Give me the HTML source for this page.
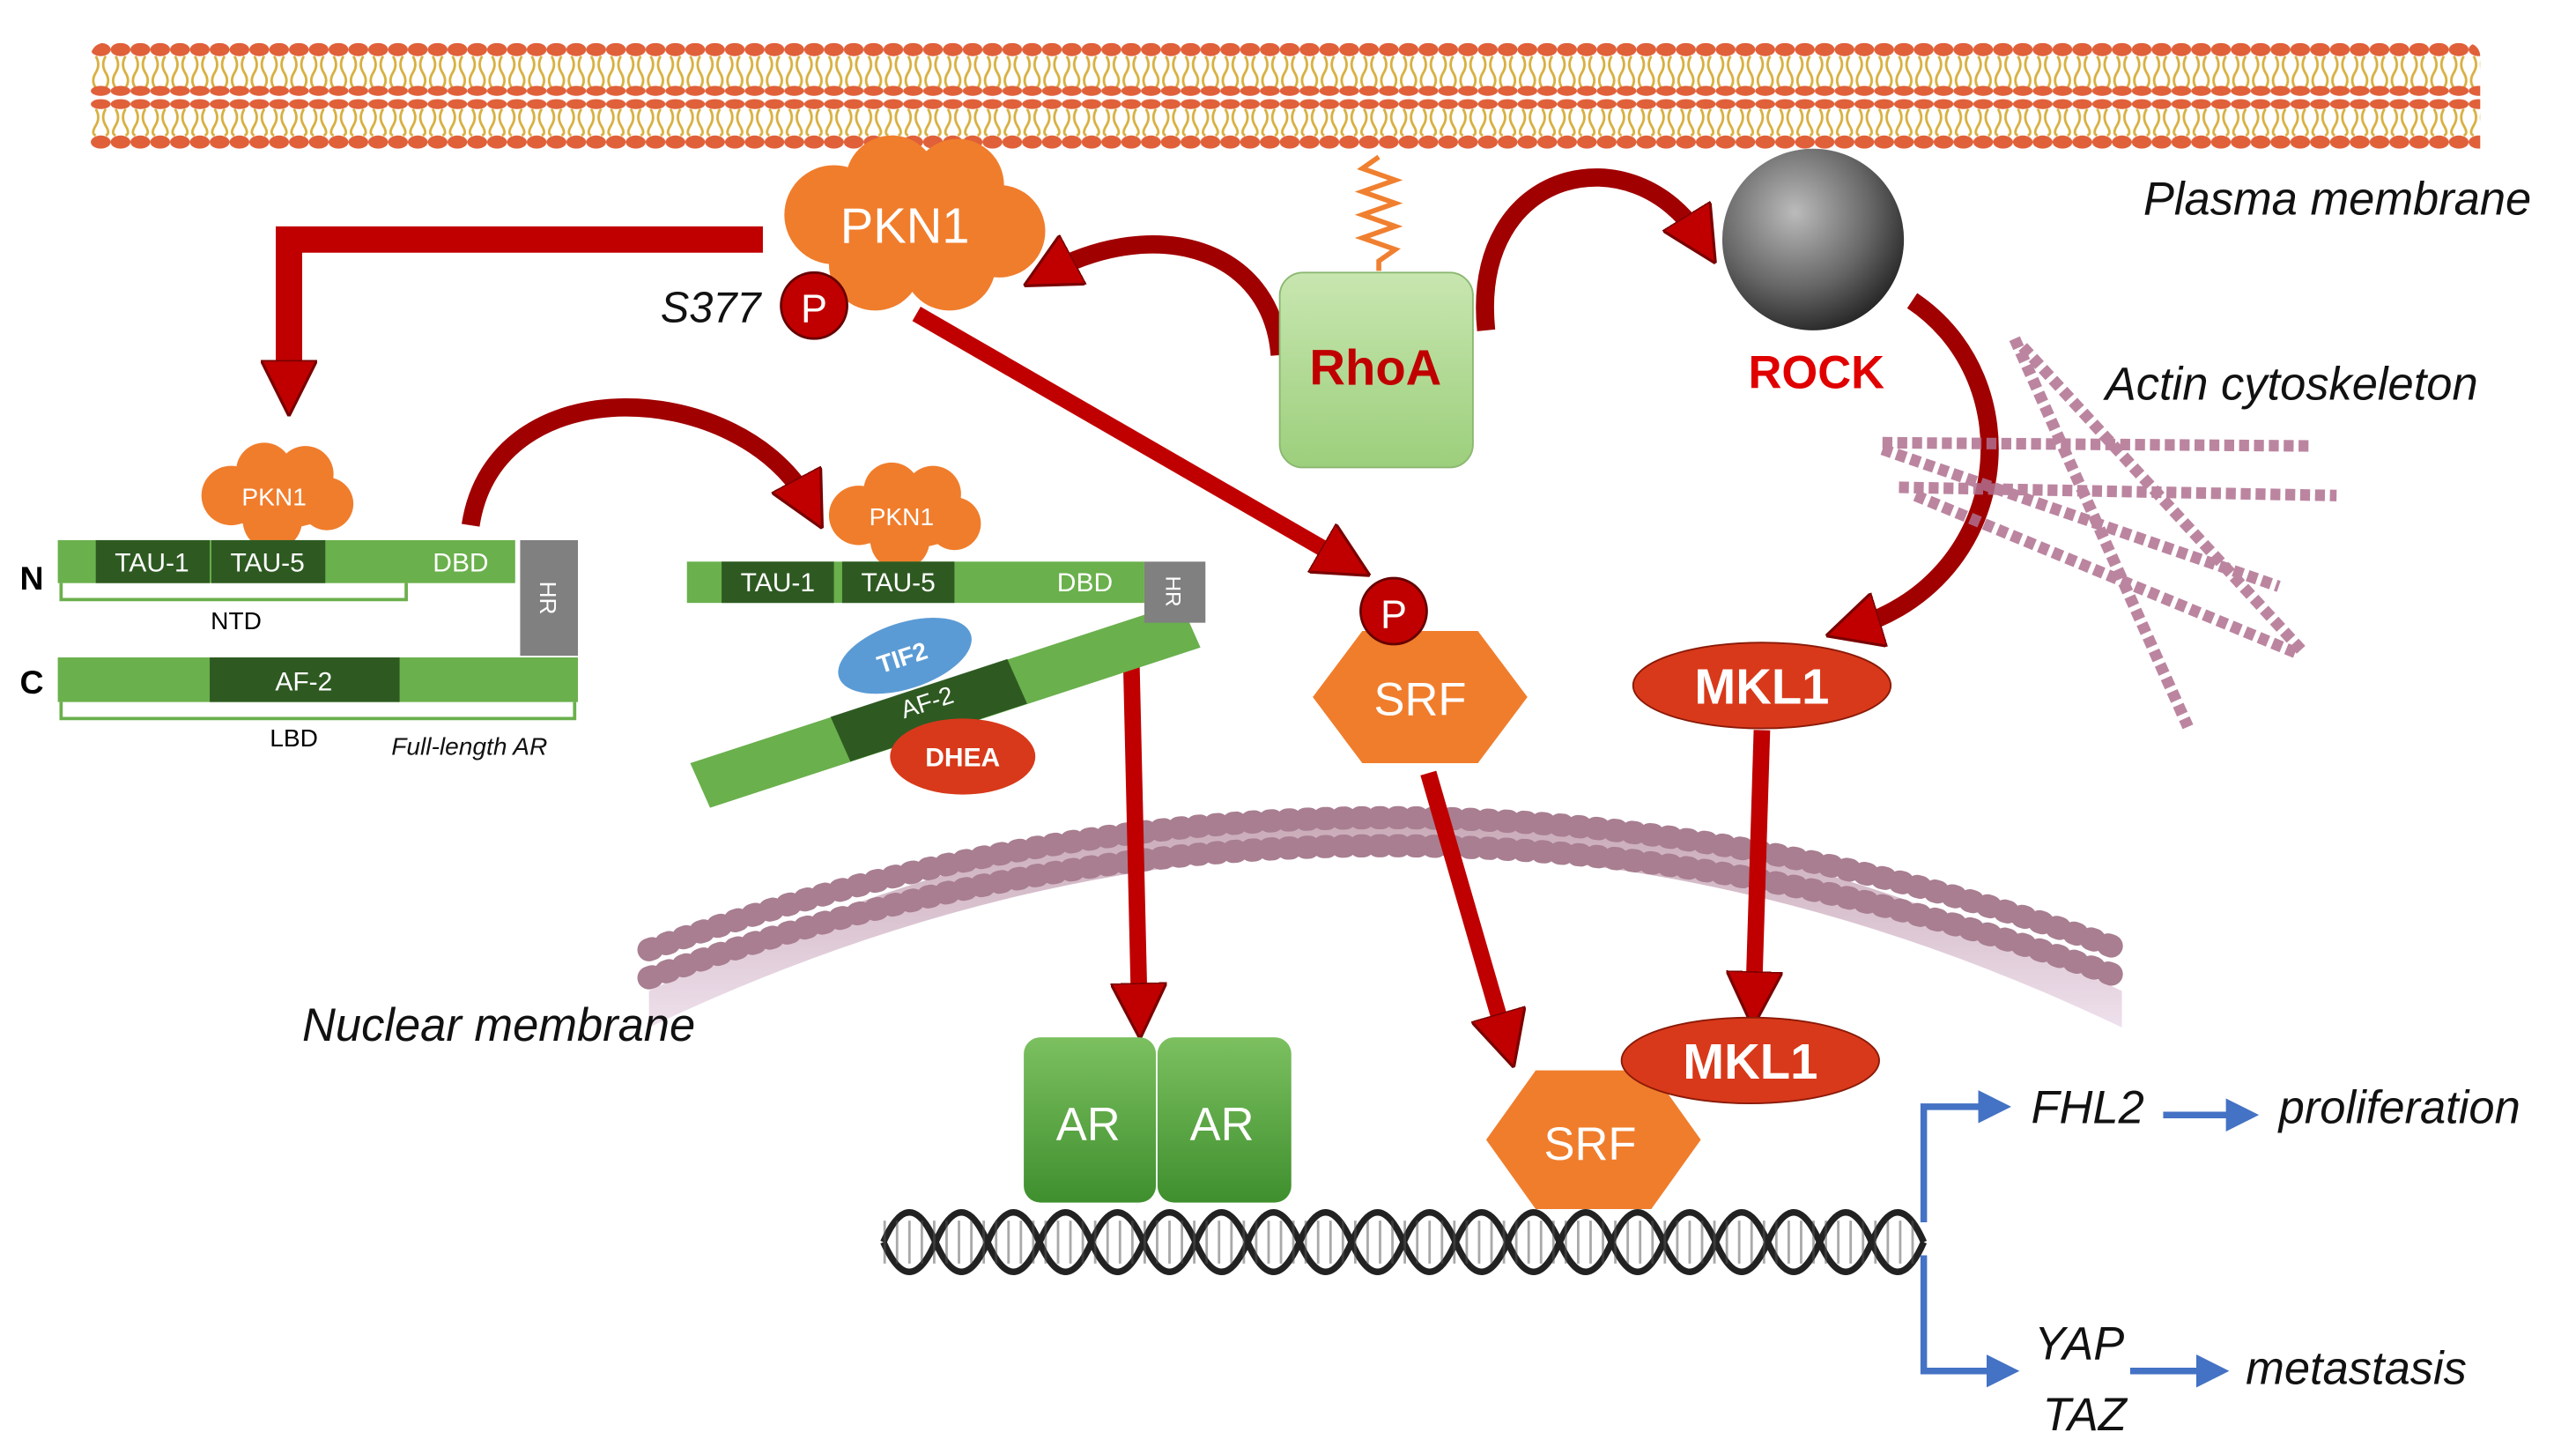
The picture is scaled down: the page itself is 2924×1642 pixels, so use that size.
<!DOCTYPE html>
<html><head><meta charset="utf-8"><style>
html,body{margin:0;padding:0;background:#fff;}
svg{display:block;}
text{font-family:"Liberation Sans",sans-serif;}
.it{font-style:italic;fill:#111;}
</style></head><body>
<svg width="2924" height="1642" viewBox="0 0 1560 876" xmlns="http://www.w3.org/2000/svg">
<defs>
<pattern id="mem" x="55" y="0" width="12" height="70" patternUnits="userSpaceOnUse">
<ellipse cx="6" cy="30" rx="6" ry="4" fill="#e0603a"/>
<path d="M3 34 q3 5 0 10 q-3 5 0 9 M9 34 q-3 5 0 10 q3 5 0 9" stroke="#d8b040" stroke-width="1.5" fill="none"/>
<ellipse cx="6" cy="55" rx="6" ry="3" fill="#e0603a"/>
<ellipse cx="6" cy="63" rx="6" ry="3" fill="#e0603a"/>
</pattern>
<pattern id="mem2" x="55" y="0" width="12" height="100" patternUnits="userSpaceOnUse">
<path d="M3 66 q3 5 0 10 q-3 5 0 6 M9 66 q-3 5 0 10 q3 5 0 6" stroke="#d8b040" stroke-width="1.5" fill="none"/>
<ellipse cx="6" cy="86" rx="6" ry="4" fill="#e0603a"/>
</pattern>
<radialGradient id="moon" cx="0.4" cy="0.35" r="0.7"><stop offset="0" stop-color="#bbb"/><stop offset="0.6" stop-color="#666"/><stop offset="1" stop-color="#222"/></radialGradient>
<linearGradient id="gbox" x1="0" y1="0" x2="0" y2="1"><stop offset="0" stop-color="#7cc060"/><stop offset="1" stop-color="#3f8f2e"/></linearGradient>
<linearGradient id="rhoa" x1="0" y1="0" x2="0" y2="1"><stop offset="0" stop-color="#c8e6b0"/><stop offset="1" stop-color="#9ccf7c"/></linearGradient>
<linearGradient id="nuc" x1="0" y1="0" x2="0" y2="1"><stop offset="0" stop-color="#b58a9c"/><stop offset="1" stop-color="#e8d6e6"/></linearGradient>
<marker id="ah" viewBox="0 0 10 10" refX="5" refY="5" markerWidth="34" markerHeight="34" markerUnits="userSpaceOnUse" orient="auto"><path d="M0 0 L10 5 L0 10 z" fill="#c00000" stroke="#7a0000" stroke-width="0.5"/></marker>
<marker id="ahb" viewBox="0 0 10 10" refX="5" refY="5" markerWidth="20" markerHeight="20" markerUnits="userSpaceOnUse" orient="auto"><path d="M0 0 L10 5 L0 10 z" fill="#4472c4"/></marker>
</defs>

<!-- plasma membrane -->
<rect x="55" y="26" width="1447" height="64" rx="8" fill="url(#mem)"/>
<rect x="55" y="26" width="1447" height="64" fill="url(#mem2)"/>
<text x="1298" y="130" class="it" font-size="28">Plasma membrane</text>

<!-- nuclear membrane -->
<path d="M393 600 Q840 380 1285 600 L1285 622 Q840 410 393 622 Z" fill="url(#nuc)" opacity="0.75"/>
<path d="M393 575 Q840 415 1285 575" stroke="#a87e90" stroke-width="14" fill="none" stroke-dasharray="2 9" stroke-linecap="round"/>
<path d="M393 592 Q840 432 1285 592" stroke="#a87e90" stroke-width="14" fill="none" stroke-dasharray="2 9" stroke-linecap="round"/>
<text x="183" y="630" class="it" font-size="28">Nuclear membrane</text>

<!-- spring -->
<path d="M835 95 l-10 7 l20 7 l-20 7 l20 7 l-20 7 l20 7 l-20 7 l20 7 l-10 7 v6" stroke="#f08030" stroke-width="3" fill="none"/>

<!-- arrows red -->
<path d="M462 145 H175 V235" stroke="#c00000" stroke-width="16" fill="none" marker-end="url(#ah)"/>
<path d="M775 215 C770 150 700 130 635 165" stroke="#a00000" stroke-width="11" fill="none" marker-end="url(#ah)"/>
<path d="M900 200 C890 100 990 80 1030 145" stroke="#a00000" stroke-width="11" fill="none" marker-end="url(#ah)"/>
<path d="M1158 182 C1230 230 1220 350 1122 380" stroke="#a00000" stroke-width="11" fill="none" marker-end="url(#ah)"/>
<path d="M285 318 C300 220 450 230 490 305" stroke="#a00000" stroke-width="11" fill="none" marker-end="url(#ah)"/>
<path d="M555 190 L815 340" stroke="#c00000" stroke-width="10" fill="none" marker-end="url(#ah)"/>
<path d="M685 395 L690 612" stroke="#c00000" stroke-width="10" fill="none" marker-end="url(#ah)"/>
<path d="M865 468 L912 630" stroke="#c00000" stroke-width="10" fill="none" marker-end="url(#ah)"/>
<path d="M1067 442 L1062 605" stroke="#c00000" stroke-width="10" fill="none" marker-end="url(#ah)"/>

<!-- PKN1 cloud -->
<g fill="#f07d2c">
<circle cx="505" cy="130" r="30"/><circle cx="540" cy="110" r="28"/><circle cx="580" cy="112" r="28"/><circle cx="605" cy="140" r="28"/><circle cx="575" cy="160" r="28"/><circle cx="530" cy="160" r="28"/><ellipse cx="555" cy="137" rx="60" ry="35"/>
</g>
<text x="548" y="147" font-size="30" fill="#fff" text-anchor="middle">PKN1</text>
<circle cx="493" cy="185" r="20" fill="#c00000" stroke="#600" stroke-width="1.5"/>
<text x="493" y="195" font-size="24" fill="#fff" text-anchor="middle">P</text>
<text x="400" y="195" class="it" font-size="26">S377</text>

<!-- RhoA -->
<rect x="775" y="165" width="117" height="118" rx="14" fill="url(#rhoa)" stroke="#8ab870"/>
<text x="833" y="233" font-size="30" font-weight="bold" fill="#c00000" text-anchor="middle">RhoA</text>

<!-- ROCK -->
<circle cx="1098" cy="145" r="55" fill="url(#moon)"/>
<text x="1100" y="235" font-size="28" font-weight="bold" fill="#e00000" text-anchor="middle">ROCK</text>

<!-- actin -->
<g stroke="#b07090" stroke-width="7" stroke-dasharray="6 3" opacity="0.85">
<line x1="1140" y1="268" x2="1400" y2="270"/>
<line x1="1150" y1="295" x2="1415" y2="300"/>
<line x1="1160" y1="300" x2="1390" y2="395"/>
<line x1="1140" y1="272" x2="1380" y2="355"/>
<line x1="1220" y1="205" x2="1325" y2="440"/>
<line x1="1225" y1="210" x2="1395" y2="395"/>
</g>
<text x="1275" y="242" class="it" font-size="28">Actin cytoskeleton</text>

<!-- MKL1 -->
<ellipse cx="1067" cy="415" rx="78" ry="26" fill="#d8391a" stroke="#8a1a08"/>
<text x="1067" y="426" font-size="30" font-weight="bold" fill="#fff" text-anchor="middle">MKL1</text>

<!-- SRF top -->
<polygon points="795,422 825,382 895,382 925,422 895,462 825,462" fill="#f07d2c"/>
<text x="860" y="433" font-size="28" fill="#fff" text-anchor="middle">SRF</text>
<circle cx="844" cy="370" r="20" fill="#c00000" stroke="#600" stroke-width="1.5"/>
<text x="844" y="380" font-size="24" fill="#fff" text-anchor="middle">P</text>

<!-- DNA -->
<g fill="none" stroke="#222" stroke-width="4">
<path d="M535 752 q15.75 -36 31.5 0 t31.5 0 t31.5 0 t31.5 0 t31.5 0 t31.5 0 t31.5 0 t31.5 0 t31.5 0 t31.5 0 t31.5 0 t31.5 0 t31.5 0 t31.5 0 t31.5 0 t31.5 0 t31.5 0 t31.5 0 t31.5 0 t31.5 0"/>
<path d="M535 752 q15.75 36 31.5 0 t31.5 0 t31.5 0 t31.5 0 t31.5 0 t31.5 0 t31.5 0 t31.5 0 t31.5 0 t31.5 0 t31.5 0 t31.5 0 t31.5 0 t31.5 0 t31.5 0 t31.5 0 t31.5 0 t31.5 0 t31.5 0 t31.5 0"/>
</g>
<line x1="535" y1="752" x2="1165" y2="752" stroke="#555" stroke-width="26" stroke-dasharray="1.5 6" opacity="0.5"/>

<!-- AR dimer -->
<rect x="620" y="628" width="80" height="100" rx="10" fill="url(#gbox)"/>
<rect x="701" y="628" width="81" height="100" rx="10" fill="url(#gbox)"/>
<text x="659" y="690" font-size="28" fill="#fff" text-anchor="middle">AR</text>
<text x="740" y="690" font-size="28" fill="#fff" text-anchor="middle">AR</text>

<!-- SRF bottom + MKL1 -->
<polygon points="900,690 930,648 1000,648 1030,690 1000,732 930,732" fill="#f07d2c"/>
<text x="963" y="702" font-size="28" fill="#fff" text-anchor="middle">SRF</text>
<ellipse cx="1060" cy="642" rx="78" ry="26" fill="#d8391a" stroke="#8a1a08"/>
<text x="1060" y="653" font-size="30" font-weight="bold" fill="#fff" text-anchor="middle">MKL1</text>

<!-- blue outputs -->
<path d="M1165 740 V670 H1208" stroke="#4472c4" stroke-width="4" fill="none" marker-end="url(#ahb)"/>
<path d="M1165 760 V830 H1213" stroke="#4472c4" stroke-width="4" fill="none" marker-end="url(#ahb)"/>
<path d="M1310 675 H1358" stroke="#4472c4" stroke-width="4" fill="none" marker-end="url(#ahb)"/>
<path d="M1290 830 H1340" stroke="#4472c4" stroke-width="4" fill="none" marker-end="url(#ahb)"/>
<text x="1230" y="680" class="it" font-size="28">FHL2</text>
<text x="1380" y="680" class="it" font-size="28">proliferation</text>
<text x="1232" y="823" class="it" font-size="28">YAP</text>
<text x="1237" y="866" class="it" font-size="28">TAZ</text>
<text x="1360" y="838" class="it" font-size="28">metastasis</text>

<!-- Full-length AR -->
<g fill="#f07d2c">
<circle cx="140" cy="300" r="18"/><circle cx="160" cy="285" r="17"/><circle cx="185" cy="287" r="17"/><circle cx="198" cy="305" r="16"/><circle cx="165" cy="315" r="18"/><ellipse cx="168" cy="300" rx="40" ry="20"/>
</g>
<text x="166" y="306" font-size="15" fill="#fff" text-anchor="middle">PKN1</text>
<text x="12" y="357" font-size="20" font-weight="bold">N</text>
<text x="12" y="420" font-size="20" font-weight="bold">C</text>
<rect x="35" y="327" width="277" height="26" fill="#6ab04c"/>
<rect x="58" y="327" width="69" height="26" fill="#2e5a22"/>
<rect x="128" y="327" width="69" height="26" fill="#2e5a22"/>
<text x="92" y="346" font-size="16" fill="#fff" text-anchor="middle">TAU-1</text>
<text x="162" y="346" font-size="16" fill="#fff" text-anchor="middle">TAU-5</text>
<text x="279" y="346" font-size="16" fill="#fff" text-anchor="middle">DBD</text>
<rect x="315" y="327" width="35" height="70" fill="#808080"/>
<text x="0" y="0" font-size="14" fill="#fff" transform="translate(327 362) rotate(90)" text-anchor="middle">HR</text>
<rect x="35" y="398" width="315" height="27" fill="#6ab04c"/>
<rect x="127" y="398" width="115" height="27" fill="#2e5a22"/>
<text x="184" y="418" font-size="16" fill="#fff" text-anchor="middle">AF-2</text>
<path d="M37 353 V363 H246 V353" stroke="#6ab04c" stroke-width="2" fill="none"/>
<path d="M37 425 V435 H348 V425" stroke="#6ab04c" stroke-width="2" fill="none"/>
<text x="143" y="381" font-size="15" text-anchor="middle">NTD</text>
<text x="178" y="452" font-size="15" text-anchor="middle">LBD</text>
<text x="237" y="457" class="it" font-size="15">Full-length AR</text>

<!-- second AR -->
<g fill="#f07d2c">
<circle cx="520" cy="312" r="18"/><circle cx="540" cy="297" r="17"/><circle cx="565" cy="299" r="17"/><circle cx="578" cy="317" r="16"/><circle cx="545" cy="327" r="18"/><ellipse cx="548" cy="312" rx="40" ry="20"/>
</g>
<text x="546" y="318" font-size="15" fill="#fff" text-anchor="middle">PKN1</text>
<polygon points="418,462 715,365 727,392 430,489" fill="#6ab04c"/>
<polygon points="503,434 610,399 622,426 515,461" fill="#2e5a22"/>
<text x="0" y="0" font-size="15" fill="#fff" transform="translate(563 430) rotate(-18)" text-anchor="middle">AF-2</text>
<rect x="416" y="340" width="277" height="25" fill="#6ab04c"/>
<rect x="437" y="340" width="68" height="25" fill="#2e5a22"/>
<rect x="510" y="340" width="68" height="25" fill="#2e5a22"/>
<text x="471" y="358" font-size="16" fill="#fff" text-anchor="middle">TAU-1</text>
<text x="544" y="358" font-size="16" fill="#fff" text-anchor="middle">TAU-5</text>
<text x="657" y="358" font-size="16" fill="#fff" text-anchor="middle">DBD</text>
<rect x="693" y="340" width="37" height="37" fill="#808080"/>
<text x="0" y="0" font-size="13" fill="#fff" transform="translate(706 358) rotate(90)" text-anchor="middle">HR</text>
<ellipse cx="548" cy="397" rx="42" ry="20" fill="#5b9bd5" transform="rotate(-18 548 397)"/>
<text x="0" y="0" font-size="15" fill="#fff" font-weight="bold" transform="translate(548 403) rotate(-18)" text-anchor="middle">TIF2</text>
<ellipse cx="583" cy="458" rx="44" ry="23" fill="#d8391a"/>
<text x="583" y="464" font-size="16" fill="#fff" font-weight="bold" text-anchor="middle">DHEA</text>
</svg>
</body></html>
